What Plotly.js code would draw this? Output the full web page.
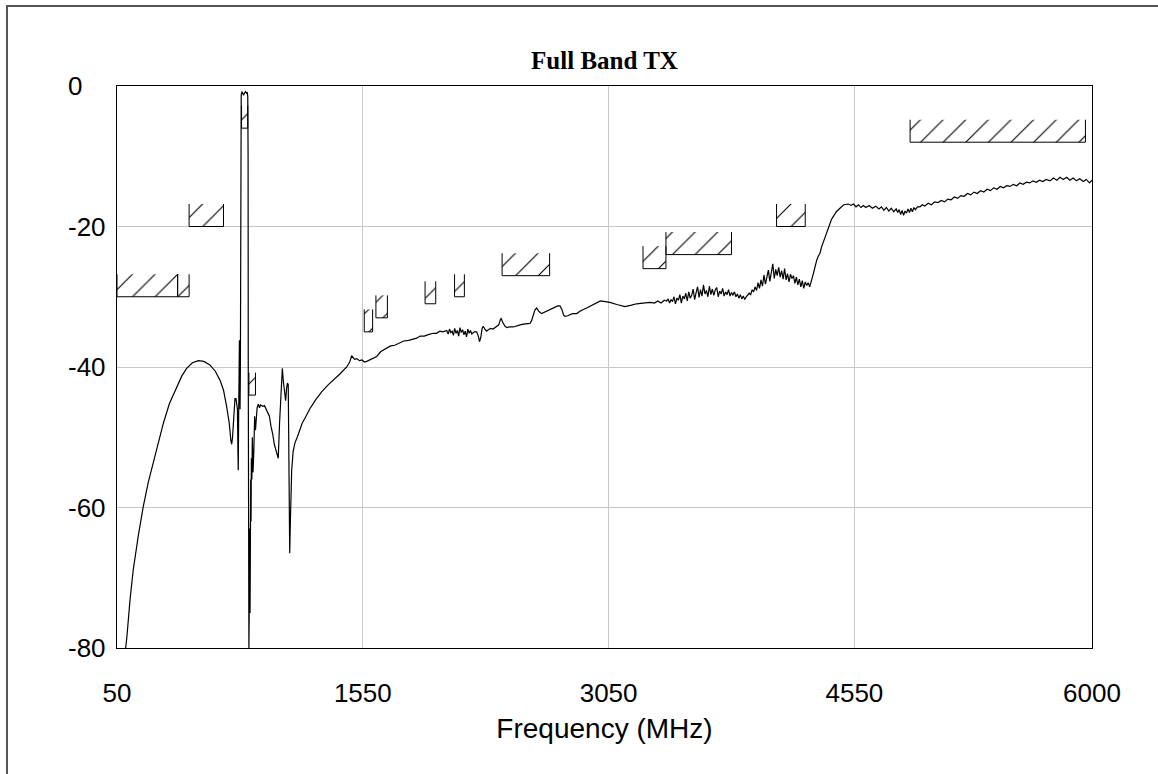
<!DOCTYPE html>
<html><head><meta charset="utf-8">
<script src="https://cdn.plot.ly/plotly-3.0.1.min.js"></script>
<style>
html,body{margin:0;padding:0;background:#fff;overflow:hidden}
#chart{width:1158px;height:774px;position:absolute;left:0;top:0}
#frame{position:absolute;left:6px;top:5px;width:1300px;height:900px;border-left:2px solid #555;border-top:2px solid #555;pointer-events:none}
</style></head><body>
<div id="chart"></div><div id="frame"></div>
<script>
// Spectrum: frequency (MHz) and level (dB)
const freq = [103,110,130,149,180,210,240,271,300,333,370,414,445,475,510,546,580,617,650,679,700,719,735,745,750,755,762,770,776,781,785,788,790,792,795,797,799,801,803,805,806,808,812,816,822,828,834,840,845,848,850,851,852,854,855,858,860,862,864,866,868,870,873,876,880,885,890,895,900,905,912,920,925,932,940,950,960,970,980,990,1000,1010,1025,1034,1042,1050,1059,1065,1072,1079,1085,1090,1095,1100,1104,1108,1116,1125,1136,1150,1167,1180,1197,1215,1228,1264,1300,1340,1370,1410,1452,1470,1482,1490,1500,1513,1530,1545,1560,1574,1590,1610,1635,1660,1680,1696,1720,1745,1777,1800,1830,1855,1879,1900,1925,1950,1980,2000,2020,2040,2062,2071,2079,2087,2095,2103,2111,2119,2127,2135,2143,2151,2159,2167,2175,2183,2191,2199,2207,2215,2230,2245,2255,2262,2270,2278,2285,2295,2305,2316,2330,2345,2367,2380,2390,2395,2403,2418,2430,2445,2468,2490,2510,2530,2550,2570,2580,2590,2600,2611,2625,2641,2660,2680,2700,2720,2740,2753,2765,2775,2784,2800,2830,2855,2880,2916,2950,2980,3000,3030,3058,3100,3150,3190,3221,3260,3303,3330,3350,3370,3390,3404,3413,3422,3431,3440,3449,3458,3467,3476,3485,3494,3503,3512,3521,3530,3539,3548,3557,3566,3575,3584,3593,3602,3611,3620,3629,3638,3647,3656,3665,3674,3683,3692,3701,3710,3719,3728,3737,3746,3755,3764,3773,3782,3791,3800,3809,3818,3827,3836,3845,3854,3863,3872,3881,3890,3899,3908,3917,3926,3935,3944,3953,3962,3971,3980,3989,3998,4007,4016,4025,4034,4043,4052,4061,4070,4079,4088,4097,4106,4115,4124,4133,4142,4151,4160,4169,4178,4187,4196,4205,4214,4223,4232,4241,4250,4259,4268,4277,4286,4295,4304,4312,4320,4330,4340,4350,4360,4370,4381,4395,4410,4421,4440,4462,4485,4513,4530,4545,4560,4575,4590,4605,4620,4640,4660,4680,4700,4715,4730,4745,4760,4775,4790,4805,4814,4823,4832,4841,4850,4859,4868,4877,4886,4895,4904,4913,4922,4935,4950,4965,4980,5000,5020,5040,5060,5080,5100,5120,5140,5160,5180,5200,5220,5240,5260,5280,5300,5320,5340,5360,5380,5400,5420,5440,5460,5480,5500,5520,5540,5560,5580,5600,5620,5640,5660,5680,5700,5720,5744,5765,5785,5805,5825,5845,5865,5885,5905,5925,5947,5965,5985,6000];
const level = [-80,-78.5,-73,-68.9,-64,-59.9,-56.5,-53.7,-51,-48,-45.2,-42.8,-41.3,-40.2,-39.4,-39.1,-39.2,-39.7,-40.6,-41.9,-43.3,-45.6,-48,-50.5,-51,-50,-46.5,-44.5,-44.5,-45.5,-46,-52,-54.7,-48,-40,-36.2,-42,-46,-40,-20,-3,-1.3,-0.8,-1.1,-1.3,-1.0,-0.8,-1.0,-0.9,-1.5,-10,-40,-60,-80,-80,-72,-63,-75,-60,-56,-62,-53,-56,-50,-55,-52,-47,-49,-46.5,-45.8,-45.3,-45.8,-45.4,-45.5,-45.6,-45.5,-46,-46.3,-47,-48.5,-49.5,-51,-52.5,-53,-48,-43,-40.2,-42,-44,-44.8,-43,-42.3,-42.5,-55,-66.5,-62,-54.7,-52,-50.8,-50,-49,-48,-47.3,-46.5,-45.9,-44.6,-43.5,-42.5,-41.9,-41,-40,-39.3,-38.4,-38.6,-38.9,-38.8,-39.1,-39.0,-39.3,-39.2,-39.0,-38.8,-38.5,-37.8,-37.5,-37.3,-37.0,-36.9,-36.6,-36.3,-36.2,-36.0,-35.9,-35.6,-35.6,-35.4,-35.2,-35.2,-34.9,-35.0,-34.8,-35.3,-34.6,-35.1,-34.9,-35.5,-34.5,-35.2,-34.8,-35.6,-34.4,-35.1,-34.7,-35.4,-34.9,-35.7,-34.6,-35.2,-34.8,-35.3,-35.0,-35.0,-35.6,-36.4,-35.8,-34.5,-34.2,-34.6,-34.9,-34.7,-34.5,-34.6,-34.3,-34.0,-33.2,-33.1,-33.6,-34.2,-34.4,-34.3,-34.3,-34.1,-34.0,-33.9,-33.8,-33.8,-33.4,-32.6,-31.9,-31.6,-32.1,-32.4,-32.2,-32.0,-31.8,-31.6,-31.3,-31.3,-31.8,-32.6,-32.8,-32.7,-32.4,-32.4,-32.0,-31.6,-31.2,-30.8,-30.6,-30.7,-30.8,-31.1,-31.4,-31.2,-31.0,-30.9,-30.8,-30.9,-30.6,-30.9,-30.5,-30.6,-30.3,-30.9,-30.4,-30.7,-30.0,-31.0,-30.2,-30.5,-29.7,-30.9,-29.9,-30.3,-29.5,-30.6,-29.3,-30.2,-29.8,-28.9,-30.4,-29.4,-28.6,-30.1,-29.0,-29.9,-28.3,-29.6,-29.1,-30.0,-28.5,-29.7,-28.9,-29.8,-29.0,-28.7,-30.0,-29.2,-29.6,-28.8,-29.9,-29.3,-29.7,-29.0,-29.9,-29.4,-29.8,-29.3,-30.0,-29.6,-30.2,-29.7,-30.3,-29.9,-30.4,-30.0,-29.8,-29.5,-29.7,-29.0,-29.3,-28.6,-29.1,-28.0,-28.8,-27.6,-28.5,-26.9,-28.2,-27.3,-26.2,-27.8,-26.6,-25.3,-27.4,-26.1,-27.0,-25.8,-27.2,-26.3,-27.5,-26.0,-27.6,-26.7,-27.9,-26.8,-27.4,-27.0,-28.1,-27.2,-28.3,-27.5,-28.6,-27.7,-28.8,-27.9,-28.4,-28.0,-28.6,-27.6,-27.1,-26.3,-25.3,-24.8,-24.2,-23.8,-22.9,-22.2,-21.6,-21.0,-20.0,-19.0,-18.6,-17.9,-17.4,-16.9,-16.8,-17.0,-16.8,-17.2,-16.9,-17.3,-17.0,-17.3,-17.0,-17.4,-17.1,-17.5,-17.2,-17.7,-17.3,-17.8,-17.4,-17.9,-17.5,-18.0,-17.6,-18.3,-17.7,-18.4,-17.8,-18.1,-17.5,-18.0,-17.4,-17.9,-17.3,-17.6,-17.2,-17.2,-16.9,-17.1,-16.7,-16.9,-16.5,-16.6,-16.3,-16.5,-16.1,-16.2,-15.8,-16.0,-15.6,-15.7,-15.3,-15.5,-15.1,-15.3,-14.9,-15.1,-14.7,-14.9,-14.5,-14.7,-14.3,-14.5,-14.2,-14.3,-14.0,-14.2,-13.8,-14.0,-13.7,-13.8,-13.5,-13.7,-13.4,-13.6,-13.3,-13.5,-13.1,-13.4,-13.0,-13.3,-13.0,-13.4,-13.1,-13.5,-13.2,-13.6,-13.3,-13.8,-13.4,-13.9,-13.7];

// Limit mask segments
const maskStart = [50,420,490,810,855,1559,1630,1930,2110,2400,3260,3400,4075,4890];
const maskStop  = [420,490,700,848,895,1610,1700,1995,2170,2690,3400,3800,4250,5960];
const maskLimit = [-30,-30,-20,-6,-44,-35,-33,-31,-30,-27,-26,-24,-20,-8];

const xTickVals = [50,1550,3050,4550,6000];
const xTickText = ['50','1550','3050','4550','6000'];
const yTickVals = [0,-20,-40,-60,-80];
const yTickText = ['0','-20','-40','-60','-80'];

const HATCH_H = 3.2;

const traces = [{
  x: freq, y: level, type: 'scatter', mode: 'lines',
  line: {color: '#000', width: 1.2}, hoverinfo: 'skip', showlegend: false
}];
for (let i = 0; i < maskStart.length; i++) {
  const a = maskStart[i], b = maskStop[i], lo = maskLimit[i], hi = lo + HATCH_H;
  traces.push({
    x: [a, a, b, b], y: [hi, lo, lo, hi], type: 'scatter', mode: 'lines',
    fill: 'toself', fillcolor: 'rgba(0,0,0,0)',
    fillpattern: {shape: '/', size: 16, solidity: 0.07, fgcolor: '#000', bgcolor: 'rgba(0,0,0,0)', fillmode: 'replace'},
    line: {color: '#000', width: 1}, hoverinfo: 'skip', showlegend: false
  });
}

// y tick labels are left-aligned in the original, so draw them as annotations
const yLabelAnn = yTickVals.map((v, i) => ({
  text: yTickText[i], x: -0.052, xref: 'paper', y: v, yref: 'y',
  xanchor: 'left', yanchor: 'middle', showarrow: false,
  font: {family: 'Liberation Sans', size: 26, color: '#000'}
}));

const layout = {
  width: 1158, height: 774,
  margin: {l: 117, r: 66, t: 86, b: 126},
  paper_bgcolor: '#fff', plot_bgcolor: '#fff',
  showlegend: false,
  title: {text: 'Full Band TX', font: {family: 'Liberation Serif', size: 25, color: '#000', weight: 'bold'},
          x: 0.5, xref: 'paper', y: 1 - 60/774, yref: 'container', yanchor: 'middle'},
  xaxis: {range: [50, 6000], tickvals: xTickVals, ticktext: xTickText, showgrid: true, gridcolor: '#c8c8c8', gridwidth: 1,
          zeroline: false, showline: true, linecolor: '#000', linewidth: 1, mirror: true, ticks: '',
          tickfont: {family: 'Liberation Sans', size: 26, color: '#000'}, ticklabelstandoff: 22,
          title: {text: 'Frequency (MHz)', font: {family: 'Liberation Sans', size: 28, color: '#000'}, standoff: 11}},
  yaxis: {range: [-80, 0], tickvals: yTickVals, ticktext: yTickText, showticklabels: false, showgrid: true, gridcolor: '#c8c8c8', gridwidth: 1,
          zeroline: false, showline: true, linecolor: '#000', linewidth: 1, mirror: true, ticks: ''},
  annotations: yLabelAnn
};
Plotly.newPlot('chart', traces, layout, {staticPlot: true, displayModeBar: false});
</script></body></html>
